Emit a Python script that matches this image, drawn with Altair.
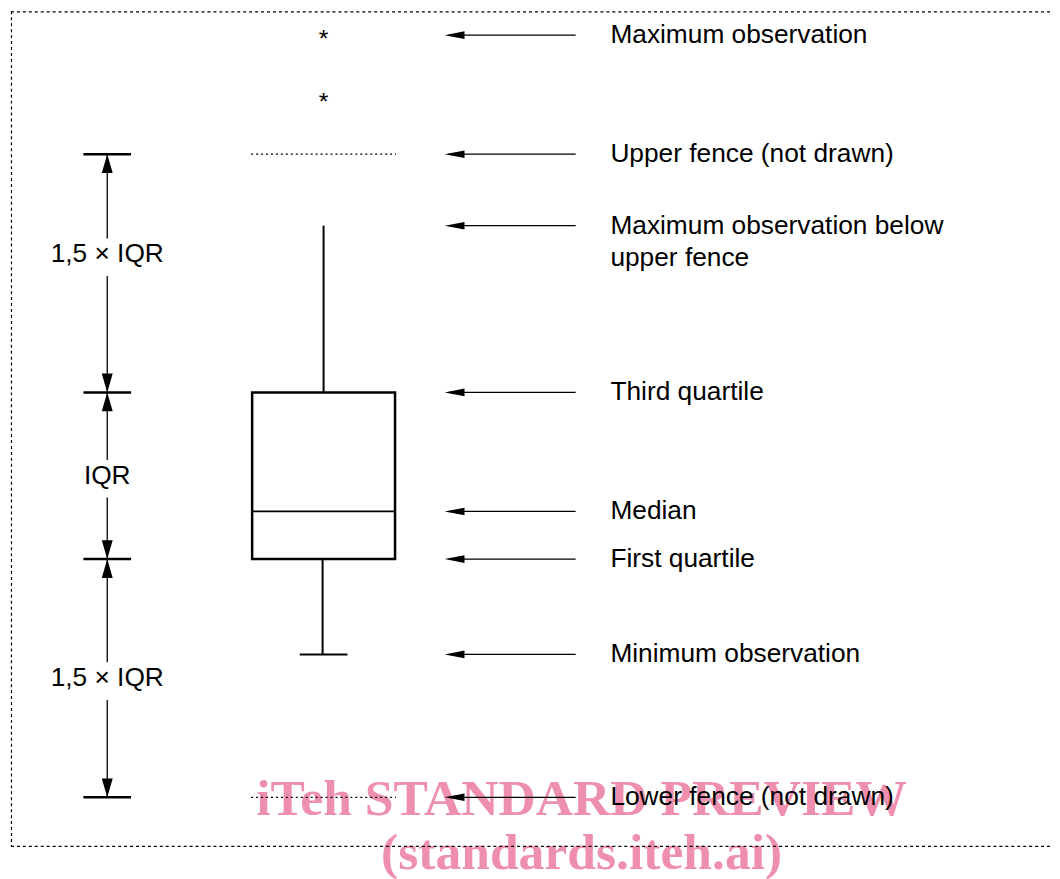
import altair as alt
import pandas as pd

# ---- values (data units: 1 unit = IQR / 14) ----
outliers = [63.75, 58.5]
upper_fence = 54.0
whisker_high = 48.0
q3 = 34.0
median = 24.0
q1 = 20.0
minimum = 12.0
lower_fence = 0.0

label_texts = [
    "Maximum observation",
    "Upper fence (not drawn)",
    "Maximum observation below",
    "upper fence",
    "Third quartile",
    "Median",
    "First quartile",
    "Minimum observation",
    "Lower fence (not drawn)",
]
label_values = [64.0, 54.0, 48.0, 45.3, 34.0, 24.0, 20.0, 12.0, 0.0]
arrow_values = [64.0, 54.0, 48.0, 34.0, 24.0, 20.0, 12.0, 0.0]

dim_ticks = [54.0, 34.0, 20.0, 0.0]
dim_labels = ["1,5 × IQR", "IQR", "1,5 × IQR"]
dim_label_values = [45.6, 27.0, 10.0]

watermark_lines = ["iTeh STANDARD PREVIEW", "(standards.iteh.ai)"]

# ---- layout (pixels inside the chart) ----
W, H = 1052, 871
FONT = "Liberation Sans"
FS = 26.5
BOX_L, BOX_R, BOX_C = 246, 390, 318
DIM_X, DIM_L, DIM_R = 100, 76, 124
ARROW_TIP, ARROW_END, LABEL_X = 440, 572, 607
GAP_ABOVE, GAP_BELOW = 1.33, 1.83

yscale = alt.Scale(domain=[-6.5833, 66], nice=False, zero=False)


def Y(field):
    return alt.Y(field, type="quantitative", scale=yscale, axis=None)


def Y2(field):
    return alt.Y2(field)


one = lambda **kw: pd.DataFrame([kw])

# watermark (under everything)
wm = alt.Chart(pd.DataFrame({"t": watermark_lines, "yy": [810, 864]})).mark_text(
    font="Liberation Serif", fontWeight="bold", fontSize=52, color="#ef8fae",
    align="center", baseline="alphabetic"
).encode(x=alt.value(578), y=alt.Y("yy:Q", scale=None), text="t:N")

# border (dotted frame)
border_h = alt.Chart(pd.DataFrame({"yy": [0.5, 841.5]})).mark_rule(
    color="black", strokeWidth=1.2, strokeDash=[3, 3]
).encode(x=alt.value(3), x2=alt.value(1060), y=alt.Y("yy:Q", scale=None))
border_v = alt.Chart(pd.DataFrame({"xx": [3.5]})).mark_rule(
    color="black", strokeWidth=1.2, strokeDash=[3, 3]
).encode(x=alt.X("xx:Q", scale=None), y=alt.value(0), y2=alt.value(841.5))

# box
box = alt.Chart(one(q1=q1, q3=q3)).mark_rect(
    fill="white", stroke="black", strokeWidth=2.5
).encode(x=alt.value(BOX_L), x2=alt.value(BOX_R), y=Y("q3"), y2=Y2("q1"))
med = alt.Chart(one(m=median)).mark_rule(color="black", strokeWidth=1.8).encode(
    x=alt.value(BOX_L), x2=alt.value(BOX_R), y=Y("m")
)
whisk_hi = alt.Chart(one(a=q3, b=whisker_high)).mark_rule(color="black", strokeWidth=2).encode(
    x=alt.value(BOX_C), y=Y("a"), y2=Y2("b")
)
whisk_lo = alt.Chart(one(a=q1, b=minimum)).mark_rule(color="black", strokeWidth=2).encode(
    x=alt.value(BOX_C - 1), y=Y("a"), y2=Y2("b")
)
cap = alt.Chart(one(m=minimum)).mark_rule(color="black", strokeWidth=2).encode(
    x=alt.value(BOX_C - 24), x2=alt.value(BOX_C + 24), y=Y("m")
)
stars = alt.Chart(pd.DataFrame({"v": outliers})).mark_text(
    text="*", font=FONT, fontSize=25, color="black", align="center",
    baseline="alphabetic", dy=9
).encode(x=alt.value(BOX_C), y=Y("v"))
fences = alt.Chart(pd.DataFrame({"v": [upper_fence, lower_fence]})).mark_rule(
    color="black", strokeWidth=1.2, strokeDash=[2, 3]
).encode(x=alt.value(BOX_L - 1), x2=alt.value(BOX_R + 1), y=Y("v"))

# right-hand arrows and labels
arrows = alt.Chart(pd.DataFrame({"v": arrow_values})).mark_rule(
    color="black", strokeWidth=1.3
).encode(x=alt.value(ARROW_TIP + 4), x2=alt.value(ARROW_END), y=Y("v"))
heads = alt.Chart(pd.DataFrame({"v": arrow_values})).mark_point(
    shape="M0,0L1,-0.19L1,0.19Z", size=1600, filled=True, color="black",
    strokeWidth=0, opacity=1
).encode(x=alt.value(ARROW_TIP), y=Y("v"))
labels = alt.Chart(pd.DataFrame({"t": label_texts, "v": label_values})).mark_text(
    font=FONT, fontSize=FS, color="black", align="left", baseline="middle"
).encode(x=alt.value(LABEL_X), y=Y("v"), text="t:N")

# left dimension lines
ticks = alt.Chart(pd.DataFrame({"v": dim_ticks})).mark_rule(color="black", strokeWidth=2.5).encode(
    x=alt.value(DIM_L), x2=alt.value(DIM_R), y=Y("v")
)
seg_a, seg_b = [], []
for i, lv in enumerate(dim_label_values):
    seg_a += [dim_ticks[i], lv - GAP_BELOW]
    seg_b += [lv + GAP_ABOVE, dim_ticks[i + 1]]
dim_lines = alt.Chart(pd.DataFrame({"a": seg_a, "b": seg_b})).mark_rule(
    color="black", strokeWidth=1.3
).encode(x=alt.value(DIM_X), y=Y("a"), y2=Y2("b"))
up_heads = alt.Chart(pd.DataFrame({"v": dim_ticks[:3]})).mark_point(
    shape="M0,0L0.29,1L-0.29,1Z", size=1444, filled=True, color="black",
    strokeWidth=0, opacity=1
).encode(x=alt.value(DIM_X), y=Y("v"))
down_heads = alt.Chart(pd.DataFrame({"v": dim_ticks[1:]})).mark_point(
    shape="M0,0L0.29,-1L-0.29,-1Z", size=1444, filled=True, color="black",
    strokeWidth=0, opacity=1
).encode(x=alt.value(DIM_X), y=Y("v"))
dim_text = alt.Chart(pd.DataFrame({"t": dim_labels, "v": dim_label_values})).mark_text(
    font=FONT, fontSize=FS, color="black", align="center", baseline="middle"
).encode(x=alt.value(DIM_X), y=Y("v"), text="t:N")

chart = alt.layer(
    wm, border_h, border_v, fences, whisk_hi, whisk_lo, cap, box, med, stars,
    arrows, heads, labels, ticks, dim_lines, up_heads, down_heads, dim_text
).properties(
    width=W, height=H, padding=0, autosize=alt.AutoSizeParams(type="none"),
    background="white"
).configure_view(stroke=None)

chart.save("out.html", embed_options={"renderer": "svg", "actions": False})
